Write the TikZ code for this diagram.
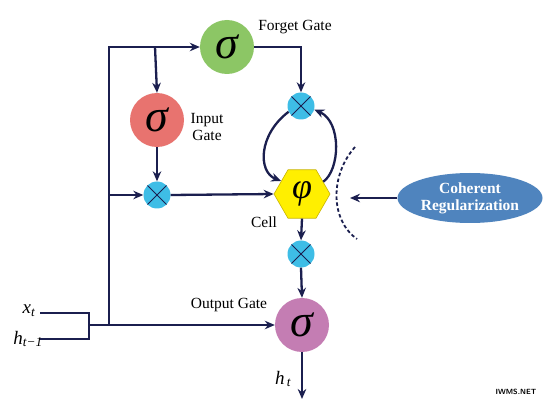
\documentclass[tikz,border=0pt]{standalone}
\usepackage{fontspec}
\setmainfont{Liberation Serif}
\usetikzlibrary{arrows.meta,shapes.geometric}
\definecolor{navy}{HTML}{1B1F4F}
\definecolor{fgreen}{HTML}{8CC665}
\definecolor{ired}{HTML}{E8736F}
\definecolor{opurple}{HTML}{C47DB3}
\definecolor{mcyan}{HTML}{3EBDE6}
\definecolor{hyellow}{HTML}{FFEF00}
\definecolor{hedge}{HTML}{C8B400}
\definecolor{eblue}{HTML}{4F84BE}
\newcommand{\sgm}{{\fontsize{46}{46}\selectfont\itshape σ}}
\newcommand{\phiglyph}{{\fontsize{36}{36}\selectfont\itshape φ}}
\tikzset{
  gate/.style={circle,minimum size=54pt,inner sep=0pt},
  mult/.style={circle,fill=mcyan,minimum size=27pt,inner sep=0pt,
    path picture={\draw[navy,line width=1pt]
      (path picture bounding box.south west)--(path picture bounding box.north east)
      (path picture bounding box.north west)--(path picture bounding box.south east);}},
  cellbox/.style={regular polygon,regular polygon sides=6,minimum size=56pt,inner sep=0pt,
    fill=hyellow,draw=hedge,line width=0.6pt},
  lbl/.style={font=\fontsize{15.5}{17}\selectfont,text=black,align=center},
  varlbl/.style={font=\fontsize{19}{19}\selectfont\itshape,text=black},
  conn/.style={draw=navy,line width=2.3pt},
  arr/.style={conn,-{Stealth[length=10pt,width=8.5pt]}},
}
\begin{document}
\begin{tikzpicture}[x=1pt,y=-1pt]
\path[use as bounding box,fill=white] (0,0) rectangle (550,404);
% nodes
\node[gate,fill=fgreen] (fg) at (227,47) {\sgm};
\node[gate,fill=ired] (ig) at (157,120) {\sgm};
\node[gate,fill=opurple] (og) at (302,325) {\sgm};
\node[mult] (m1) at (301,106) {};
\node[mult] (m2) at (157,195) {};
\node[mult] (m3) at (301,254) {};
\node[cellbox] (cell) at (302,194) {\phiglyph};
\node[ellipse,fill=eblue,minimum width=145pt,minimum height=50pt,inner sep=0pt,
  text=white,font=\bfseries\fontsize{15.5}{17}\selectfont,align=center] (cr) at (470,198) {Coherent\\Regularization};
% labels
\node[lbl] (lfg) at (295,27) {Forget Gate};
\node[lbl] (lig) at (207,127) {Input\\Gate};
\node[lbl] (lcell) at (264,222) {Cell};
\node[lbl] (log) at (229,305) {Output Gate};
\node[varlbl] (lx) at (29,311) {x\textsubscript{t}};
\node[varlbl] (lh) at (28,339) {h\textsubscript{t−1}};
\node[varlbl] (lht) at (283,379) {h\textsubscript{\,t}};
\node[font=\sffamily\bfseries\fontsize{7.5}{7.5}\selectfont] (wm) at (516,392) {IWMS.NET};
% coordinates
\coordinate (xs) at (40,313);
\coordinate (hs) at (40,339);
\coordinate (bx) at (89,313);
\coordinate (bh) at (89,339);
\coordinate (bm) at (89,325);
\coordinate (tb) at (109,325);
\coordinate (tt) at (109,47);
\coordinate (tm) at (109,195);
\coordinate (br) at (155,47);
\coordinate (fr) at (301,47);
\coordinate (out) at (302,399);
\coordinate (arcA) at (355,147);
\coordinate (arcC) at (357,239);
\coordinate (crend) at (350,198);
% connectors
\draw[conn] (xs) -- (bx) -- (bh) -- (hs);
\draw[arr] (bm) -- (og.west);
\draw[arr] (tb) -- (tt) -- (fg.west);
\draw[arr] (br) -- (ig.north);
\draw[arr] (tm) -- (m2.west);
\draw[arr] (ig.south) -- (m2.north);
\draw[arr] (m2.east) -- (cell.west);
\draw[arr] (fg.east) -- (fr) -- (m1.north);
\draw[arr] (m1.205) .. controls (258,135) and (258,172) .. (cell.148);
\draw[arr] (cell.30) .. controls (340,170) and (342,122) .. (m1.345);
\draw[arr] (cell.south) -- (m3.north);
\draw[arr] (m3.south) -- (og.north);
\draw[arr] (og.south) -- (out);
\draw[navy,line width=1.8pt,dash pattern=on 3.5pt off 2.5pt] (arcA) .. controls (330,175) and (330,220) .. (arcC);
\draw[arr] (cr.west) -- (crend);
\end{tikzpicture}
\end{document}
